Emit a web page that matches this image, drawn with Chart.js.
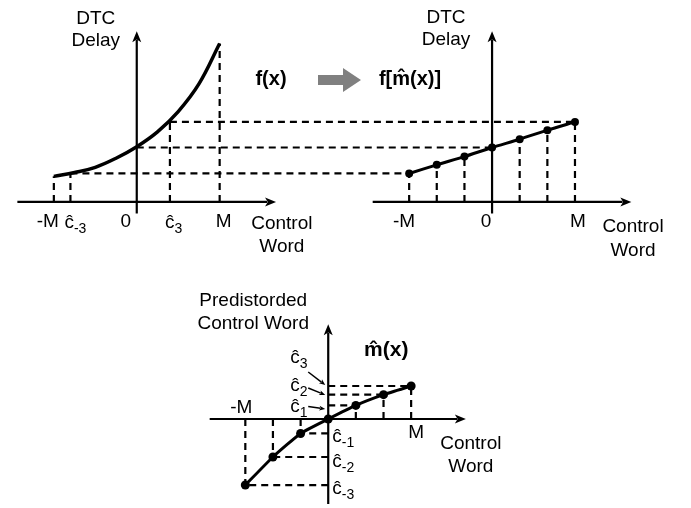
<!DOCTYPE html>
<html><head><meta charset="utf-8">
<script src="https://cdn.jsdelivr.net/npm/chart.js@4/dist/chart.umd.min.js"></script>
<style>html,body{margin:0;padding:0;background:#fff;}#wrap{width:691px;height:508px;}</style>
</head><body><div id="wrap"><canvas id="c" width="691" height="508"></canvas></div>
<script>
// ---- data (control word in units of M, delay in arbitrary units) ----
const xCurve = [-1, -0.75, -0.5, -0.25, 0, 0.25, 0.5, 0.75, 1];
const delayCurve = [0.31, 0.357, 0.42, 0.53, 0.67, 0.85, 1.095, 1.43, 1.92];
const xCtrl = [-1, -0.667, -0.333, 0, 0.333, 0.667, 1];
const predistorted = [-0.80, -0.46, -0.175, 0, 0.165, 0.295, 0.40];
const delayOut = [0.345, 0.45, 0.55, 0.66, 0.76, 0.87, 0.97];
const cHatTicks = [-0.80, 0.40];          // ĉ-3, ĉ3 on the left plot
const fAtTicks = [0.31, 0.345, 0.97, 1.92]; // f(-M), f(ĉ-3), f(ĉ3), f(M)
const subLabels = ['-3', '-2', '-1', '0', '1', '2', '3'];

// ---- layout (pixels) ----
const W = 691, H = 508, PPU = 84;
function xr(o){return {min:-o/PPU, max:(W-o)/PPU};}
function yr(o){return {min:-(H-o)/PPU, max:o/PPU};}
const FONT = '"Liberation Sans", Arial, sans-serif';

function line(ctx,x1,y1,x2,y2,w,dash){ctx.save();ctx.lineWidth=w;ctx.strokeStyle='#000';ctx.setLineDash(dash||[]);ctx.beginPath();ctx.moveTo(x1,y1);ctx.lineTo(x2,y2);ctx.stroke();ctx.restore();}
function arrow(ctx,x1,y1,x2,y2,w,hl,hw){
  const a=Math.atan2(y2-y1,x2-x1), c=Math.cos(a), s=Math.sin(a);
  line(ctx,x1,y1,x2-c*hl*0.8,y2-s*hl*0.8,w);
  ctx.save();ctx.fillStyle='#000';ctx.beginPath();ctx.moveTo(x2,y2);
  ctx.lineTo(x2-c*hl-s*hw,y2-s*hl+c*hw);ctx.lineTo(x2-c*hl*0.75,y2-s*hl*0.75);ctx.lineTo(x2-c*hl+s*hw,y2-s*hl-c*hw);ctx.closePath();ctx.fill();ctx.restore();
}
function text(ctx,str,x,y,size,align,bold,base){ctx.save();ctx.font=(bold?'bold ':'')+size+'px '+FONT;ctx.fillStyle='#000';ctx.textAlign=align||'center';ctx.textBaseline=base||'middle';ctx.fillText(str,x,y);ctx.restore();}
function chat(ctx,sub,x,base,size){
  ctx.save();ctx.font=size+'px '+FONT;ctx.fillStyle='#000';ctx.textAlign='left';ctx.textBaseline='alphabetic';
  ctx.fillText('\u0109',x,base);const w=ctx.measureText('\u0109').width;
  ctx.font=Math.round(size*0.72)+'px '+FONT;ctx.fillText(sub,x+w,base+5);ctx.restore();
}
const D=[7,5], DW=2.2;

const diagram = {
  id:'diagram',
  beforeDatasetsDraw(chart){
    const ctx=chart.ctx, s=chart.scales;
    const L=v=>s.xL.getPixelForValue(v), R=v=>s.xR.getPixelForValue(v), B=v=>s.xB.getPixelForValue(v);
    const T=v=>s.yT.getPixelForValue(v), Y=v=>s.yB.getPixelForValue(v);
    // left plot guides
    const lx=[-1,cHatTicks[0],cHatTicks[1],1];
    lx.forEach((x,i)=>line(ctx,L(x),T(0),L(x),T(fAtTicks[i]),DW,D));
    line(ctx,L(cHatTicks[0]),T(delayOut[0]),R(xCtrl[0]),T(delayOut[0]),DW,D);
    line(ctx,L(0),T(delayOut[3]),R(0),T(delayOut[3]),DW,D);
    line(ctx,L(cHatTicks[1]),T(delayOut[6]),R(xCtrl[6]),T(delayOut[6]),DW,D);
    // right plot guides
    xCtrl.forEach((x,i)=>{if(x!==0)line(ctx,R(x),T(0),R(x),T(delayOut[i]),DW,D);});
    // bottom plot guides
    xCtrl.forEach((x,i)=>{if(x!==0){line(ctx,B(x),Y(0),B(x),Y(predistorted[i]),DW,D);line(ctx,B(0),Y(predistorted[i]),B(x),Y(predistorted[i]),DW,D);}});
    // axes
    arrow(ctx,L(-1.44),T(0),L(1.68),T(0),2.2,11,4.5);
    arrow(ctx,L(0),T(-0.14),L(0),T(2.07),2.2,11,4.5);
    arrow(ctx,R(-1.44),T(0),R(1.68),T(0),2.2,11,4.5);
    arrow(ctx,R(0),T(-0.14),R(0),T(2.07),2.2,11,4.5);
    arrow(ctx,B(-1.43),Y(0),B(1.66),Y(0),2.2,11,4.5);
    arrow(ctx,B(0),Y(-1.03),B(0),Y(1.15),2.2,11,4.5);
  },
  afterDatasetsDraw(chart){
    const ctx=chart.ctx, s=chart.scales;
    const L=v=>s.xL.getPixelForValue(v), R=v=>s.xR.getPixelForValue(v), B=v=>s.xB.getPixelForValue(v);
    const T=v=>s.yT.getPixelForValue(v), Y=v=>s.yB.getPixelForValue(v);
    const fs=19, ax=T(0);
    // left plot labels
    text(ctx,'DTC',L(0)-41,19,fs);text(ctx,'Delay',L(0)-41,41,fs);
    text(ctx,'-M',L(-1)+5,ax+25,fs,'right',false,'alphabetic');
    chat(ctx,subLabels[0],L(cHatTicks[0])-6,ax+26,fs);
    text(ctx,'0',L(0)-11,ax+25,fs,'center',false,'alphabetic');
    chat(ctx,subLabels[6],L(cHatTicks[1])-5,ax+26,fs);
    text(ctx,'M',L(1)+4,ax+25,fs,'center',false,'alphabetic');
    text(ctx,'Control',L(1.75),ax+22,fs);text(ctx,'Word',L(1.75),ax+45,fs);
    // right plot labels
    text(ctx,'DTC',R(0)-46,18,fs);text(ctx,'Delay',R(0)-46,40,fs);
    text(ctx,'-M',R(-1)+6,ax+25,fs,'right',false,'alphabetic');
    text(ctx,'0',R(0)-6,ax+25,fs,'center',false,'alphabetic');
    text(ctx,'M',R(1)+3,ax+25,fs,'center',false,'alphabetic');
    text(ctx,'Control',R(1.70),ax+25,fs);text(ctx,'Word',R(1.70),ax+49,fs);
    // centre titles and block arrow
    text(ctx,'f(x)',271,79,20,'center',true);
    text(ctx,'f[m\u0302(x)]',410,79,20,'center',true);
    ctx.save();ctx.fillStyle='#808080';ctx.beginPath();
    ctx.moveTo(318,75);ctx.lineTo(343,75);ctx.lineTo(343,68);ctx.lineTo(361,80);ctx.lineTo(343,92);ctx.lineTo(343,85);ctx.lineTo(318,85);ctx.closePath();ctx.fill();ctx.restore();
    // bottom plot labels
    const bx=B(0), by=Y(0);
    text(ctx,'Predistorded',bx-75,301,fs);text(ctx,'Control Word',bx-75,324,fs);
    text(ctx,'m\u0302(x)',bx+58,350,21,'center',true);
    chat(ctx,subLabels[6],bx-38,363,fs);chat(ctx,subLabels[5],bx-38,391,fs);chat(ctx,subLabels[4],bx-38,412,fs);
    arrow(ctx,bx-20,372,bx-3,385,1.5,6,2.5);
    arrow(ctx,bx-20,388,bx-3,395,1.5,6,2.5);
    arrow(ctx,bx-20,406.5,bx-3,409,1.5,6,2.5);
    chat(ctx,subLabels[2],bx+4,by+23,fs);chat(ctx,subLabels[1],bx+4,by+48,fs);chat(ctx,subLabels[0],bx+4,by+75,fs);
    text(ctx,'-M',B(-1)-4,by-11,fs);
    text(ctx,'M',B(1)+5,by+14,fs);
    text(ctx,'Control',B(1.72),by+25,fs);text(ctx,'Word',B(1.72),by+48,fs);
  }
};

const pts=(xs,ys)=>xs.map((x,i)=>({x,y:ys[i]}));
new Chart(document.getElementById('c'),{
  type:'scatter',
  data:{datasets:[
    {label:'f(x)',data:pts(xCurve,delayCurve),xAxisID:'xL',yAxisID:'yT',showLine:true,borderColor:'#000',borderWidth:3.5,pointRadius:0,tension:0.4,clip:false},
    {label:'f[m(x)]',data:pts(xCtrl,delayOut),xAxisID:'xR',yAxisID:'yT',showLine:true,borderColor:'#000',backgroundColor:'#000',borderWidth:3,pointRadius:4,pointBackgroundColor:'#000',pointBorderWidth:0,tension:0.25,clip:false},
    {label:'m(x)',data:pts(xCtrl,predistorted),xAxisID:'xB',yAxisID:'yB',showLine:true,borderColor:'#000',backgroundColor:'#000',borderWidth:3,pointRadius:4.5,pointBackgroundColor:'#000',pointBorderWidth:0,tension:0.15,clip:false}
  ]},
  options:{
    responsive:false,animation:false,events:[],
    layout:{padding:0},
    plugins:{legend:{display:false},tooltip:{enabled:false}},
    scales:{
      xL:Object.assign({type:'linear',axis:'x',display:false},xr(134)),
      xR:Object.assign({type:'linear',axis:'x',display:false},xr(494)),
      xB:Object.assign({type:'linear',axis:'x',display:false},xr(328)),
      yT:Object.assign({type:'linear',axis:'y',display:false},yr(201)),
      yB:Object.assign({type:'linear',axis:'y',display:false},yr(422))
    }
  },
  plugins:[diagram]
});
</script></body></html>
